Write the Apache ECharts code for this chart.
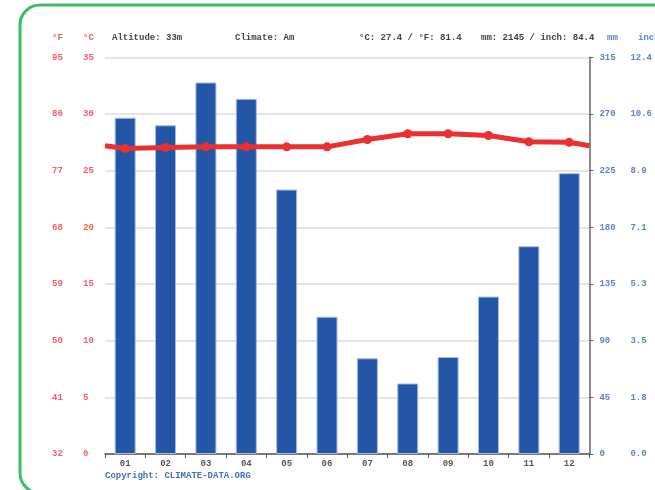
<!DOCTYPE html>
<html>
<head>
<meta charset="utf-8">
<script src="https://cdn.jsdelivr.net/npm/echarts@6/dist/echarts.min.js"></script>
<style>
html,body{margin:0;padding:0;background:#fff;overflow:hidden;}
#chart{width:655px;height:490px;}
</style>
</head>
<body>
<div id="chart"></div>
<script>
// ---- data ----
var months = ['01','02','03','04','05','06','07','08','09','10','11','12'];
var precipMm = [267, 261, 295, 282, 210, 109, 76, 56, 77, 125, 165, 223];
var tempC = [26.95, 27.05, 27.1, 27.1, 27.1, 27.1, 27.75, 28.25, 28.25, 28.1, 27.55, 27.5];
var tempEdges = [27.2, 27.2]; // line value read at the left and right plot edges
var fLabels = ['32','41','50','59','68','77','86','95'];
var inchLabels = ['0.0','1.8','3.5','5.3','7.1','8.9','10.6','12.4'];
var headerAltitude = 'Altitude: 33m';
var headerClimate = 'Climate: Am';
var headerTemp = '°C: 27.4 / °F: 81.4';
var headerPrecip = 'mm: 2145 / inch: 84.4';
var copyright = 'Copyright: CLIMATE-DATA.ORG';

// ---- build ----
var FONT = '"Liberation Mono", "DejaVu Sans Mono", monospace';
var RED = '#f25c5c';
var BLUE = '#5f7fd0';
var GREY = '#555';

var lineData = [{value:[0, tempEdges[0]], symbol:'none'}];
for (var i = 0; i < tempC.length; i++) lineData.push([i + 0.5, tempC[i]]);
lineData.push({value:[12, tempEdges[1]], symbol:'none'});

var chart = echarts.init(document.getElementById('chart'), null, {renderer:'canvas', width:655, height:490});
chart.setOption({
  animation: false,
  backgroundColor: '#fff',
  grid: {left:105, right:58, top:57.3, bottom:36, containLabel:false},
  xAxis: [
    {type:'category', data: months, boundaryGap:true,
     axisLine:{show:true, lineStyle:{color:GREY, width:1.5}},
     axisTick:{show:true, alignWithLabel:false, length:4, lineStyle:{color:GREY}},
     axisLabel:{color:GREY, fontFamily:FONT, fontSize:9, fontWeight:'bold', margin:5},
     splitLine:{show:false}},
    {type:'value', min:0, max:12, show:false}
  ],
  yAxis: [
    {type:'value', min:0, max:35, interval:5, position:'left',
     axisLine:{show:false}, axisTick:{show:false},
     axisLabel:{color:RED, fontFamily:FONT, fontSize:9, fontWeight:'bold', align:'left', margin:22},
     splitLine:{show:true, lineStyle:{color:'#dcdcdc', width:1.5}}},
    {type:'value', min:0, max:35, interval:5, position:'left',
     axisLine:{show:false}, axisTick:{show:false}, splitLine:{show:false},
     axisLabel:{color:RED, fontFamily:FONT, fontSize:9, fontWeight:'bold', align:'left', margin:53,
       formatter:function(v){return fLabels[Math.round(v/5)];}}},
    {type:'value', min:0, max:315, interval:45, position:'right',
     axisLine:{show:true, lineStyle:{color:'#666', width:1.5}},
     axisTick:{show:true, length:4, lineStyle:{color:'#666'}},
     splitLine:{show:false},
     axisLabel:{color:BLUE, fontFamily:FONT, fontSize:9, fontWeight:'bold', align:'left', margin:10}},
    {type:'value', min:0, max:315, interval:45, position:'right',
     axisLine:{show:false}, axisTick:{show:false}, splitLine:{show:false},
     axisLabel:{color:BLUE, fontFamily:FONT, fontSize:9, fontWeight:'bold', align:'left', margin:41,
       formatter:function(v){return inchLabels[Math.round(v/45)];}}}
  ],
  series: [
    {type:'bar', xAxisIndex:0, yAxisIndex:2, data: precipMm, barWidth:21,
     itemStyle:{color:'#2356a6', borderColor:'#a8bce4', borderWidth:1}, z:2},
    {type:'line', xAxisIndex:1, yAxisIndex:0, data: lineData,
     symbol:'circle', symbolSize:9, showSymbol:true,
     lineStyle:{color:'#ea3030', width:5},
     itemStyle:{color:'#ea3030'}, z:3}
  ],
  graphic: [
    {type:'rect', shape:{x:20, y:5, width:900, height:488, r:20}, z:-10, silent:true,
     style:{fill:'none', stroke:'#3dbb6c', lineWidth:3}},
    {type:'text', x:52, y:38, style:{text:'°F', fill:RED, font:'bold 9px '+FONT, textVerticalAlign:'middle'}},
    {type:'text', x:83, y:38, style:{text:'°C', fill:RED, font:'bold 9px '+FONT, textVerticalAlign:'middle'}},
    {type:'text', x:607, y:38, style:{text:'mm', fill:BLUE, font:'bold 9px '+FONT, textVerticalAlign:'middle'}},
    {type:'text', x:638, y:38, style:{text:'inch', fill:BLUE, font:'bold 9px '+FONT, textVerticalAlign:'middle'}},
    {type:'text', x:112, y:38, style:{text:headerAltitude, fill:'#444', font:'bold 9px '+FONT, textVerticalAlign:'middle'}},
    {type:'text', x:235, y:38, style:{text:headerClimate, fill:'#444', font:'bold 9px '+FONT, textVerticalAlign:'middle'}},
    {type:'text', x:359, y:38, style:{text:headerTemp, fill:'#444', font:'bold 9px '+FONT, textVerticalAlign:'middle'}},
    {type:'text', x:481, y:38, style:{text:headerPrecip, fill:'#444', font:'bold 9px '+FONT, textVerticalAlign:'middle'}},
    {type:'text', x:105, y:476, style:{text:copyright, fill:'#4a6cc0', font:'bold 9px '+FONT, textVerticalAlign:'middle'}}
  ]
});
</script>
</body>
</html>
